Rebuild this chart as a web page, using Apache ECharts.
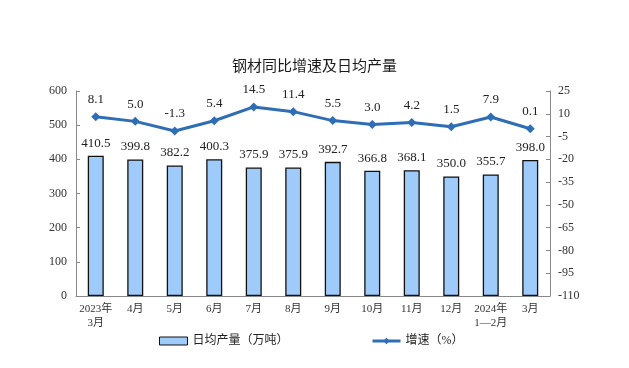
<!DOCTYPE html>
<html><head><meta charset="utf-8">
<script src="https://cdn.jsdelivr.net/npm/echarts@6/dist/echarts.min.js"></script>
<style>html,body{margin:0;padding:0;background:#fff}#c{width:629px;height:368px}</style>
</head><body><div id="c"></div>
<script>
var categories = ['2023年\n3月','4月','5月','6月','7月','8月','9月','10月','11月','12月','2024年\n1—2月','3月'];
var output = [410.5,399.8,382.2,400.3,375.9,375.9,392.7,366.8,368.1,350.0,355.7,398.0];
var growth = [8.1,5.0,-1.3,5.4,14.5,11.4,5.5,3.0,4.2,1.5,7.9,0.1];
var title = '钢材同比增速及日均产量';
var barName = '日均产量（万吨）';
var lineName = '增速（%）';

var FONT = '"Liberation Serif","Noto Sans CJK SC",serif';
var chart = echarts.init(document.getElementById('c'));
chart.setOption({
  animation:false,
  backgroundColor:'#fff',
  title:{text:title,left:'center',top:53,textStyle:{fontFamily:'"Noto Sans CJK SC",sans-serif',fontSize:15,fontWeight:'normal',color:'#1a1a1a'}},
  legend:[
    {data:[{name:barName,icon:'rect'}],left:154,top:330,itemWidth:28,itemHeight:8,itemGap:4,
      itemStyle:{borderColor:'#111',borderWidth:1},
      textStyle:{fontFamily:FONT,fontSize:12,color:'#222'}},
    {data:[lineName],left:366,top:330,itemWidth:28,itemHeight:8,itemGap:4,
      lineStyle:{width:3},
      textStyle:{fontFamily:FONT,fontSize:12,color:'#222'}}
  ],
  grid:{left:76,right:79,top:91,bottom:72},
  xAxis:{type:'category',data:categories,boundaryGap:true,
    axisLine:{lineStyle:{color:'#888',width:1}},
    axisTick:{inside:true,length:4,lineStyle:{color:'#888'},alignWithLabel:false},
    axisLabel:{fontFamily:FONT,fontSize:11,color:'#333',lineHeight:14,margin:6,interval:0}},
  yAxis:[
    {type:'value',min:0,max:600,interval:100,splitLine:{show:false},
      axisLine:{show:true,lineStyle:{color:'#888'}},axisTick:{show:true,inside:true,length:4,lineStyle:{color:'#888'}},
      axisLabel:{fontFamily:FONT,fontSize:12,color:'#333',margin:9}},
    {type:'value',min:-110,max:25,interval:15,splitLine:{show:false},
      axisLine:{show:true,lineStyle:{color:'#888'}},axisTick:{show:true,inside:true,length:4,lineStyle:{color:'#888'}},
      axisLabel:{fontFamily:FONT,fontSize:12,color:'#333',margin:8}}
  ],
  series:[
    {name:barName,type:'bar',data:output,barWidth:16,yAxisIndex:0,
      itemStyle:{color:'#9ecbfa',borderColor:'#111',borderWidth:1.3},
      label:{show:true,position:'top',distance:6,fontFamily:FONT,fontSize:13,color:'#222',formatter:function(p){return p.value.toFixed(1);}}},
    {name:lineName,type:'line',data:growth,yAxisIndex:1,symbol:'diamond',symbolSize:9,
      lineStyle:{color:'#2f6db5',width:3},itemStyle:{color:'#2f6db5'},
      label:{show:true,position:'top',distance:6,fontFamily:FONT,fontSize:13,color:'#222',formatter:function(p){return p.value.toFixed(1);}}}
  ]
});
</script></body></html>
